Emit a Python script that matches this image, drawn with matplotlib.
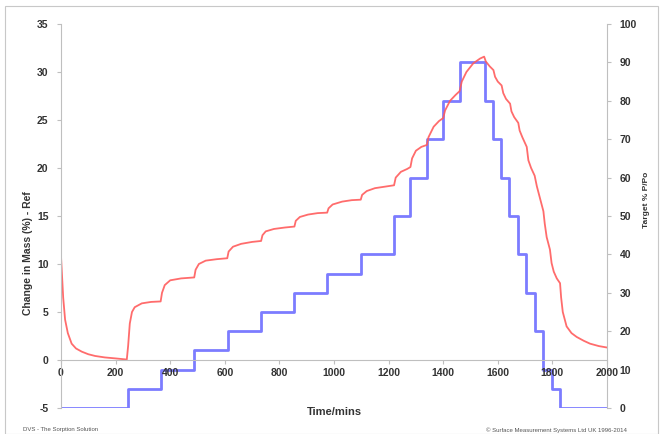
import matplotlib
matplotlib.use("Agg")
import matplotlib.pyplot as plt
from matplotlib.patches import Rectangle

# ---- data ----
rh_times = [0, 245, 365, 488, 610, 732, 855, 975, 1098, 1220, 1280, 1340, 1400, 1460,
            1552, 1584, 1612, 1642, 1674, 1704, 1735, 1766, 1797, 1828, 2000]
rh_values = [0, 5, 10, 15, 20, 25, 30, 35, 40, 50, 60, 70, 80, 90,
             80, 70, 60, 50, 40, 30, 20, 10, 5, 0, 0]

mass_times = [0, 8, 15, 25, 39, 55, 76, 100, 125, 160, 198, 241,
              246, 252, 260, 270, 296, 330, 365,
              370, 380, 400, 440, 488,
              493, 505, 530, 570, 609,
              614, 630, 660, 700, 733,
              738, 750, 780, 820, 855,
              860, 875, 905, 940, 975,
              980, 995, 1030, 1065, 1098,
              1103, 1120, 1150, 1185, 1220,
              1226, 1245, 1268, 1280,
              1286, 1300, 1320, 1340,
              1346, 1365, 1385, 1400,
              1407, 1425, 1445, 1460,
              1468, 1485, 1510, 1535, 1550,
              1556, 1570, 1584, 1590, 1600, 1614, 1620, 1630, 1645,
              1650, 1660, 1675, 1680, 1690, 1706, 1712, 1722, 1735,
              1743, 1755, 1767, 1772, 1779, 1791, 1797, 1805, 1816, 1828,
              1832, 1838, 1852, 1870, 1889, 1915, 1938, 1970, 2000]
mass_values = [10.8, 6.5, 4.2, 2.8, 1.7, 1.2, 0.87, 0.6, 0.42, 0.27, 0.17, 0.05,
               1.5, 3.8, 5.0, 5.5, 5.9, 6.05, 6.1,
               7.0, 7.8, 8.3, 8.5, 8.6,
               9.4, 10.0, 10.35, 10.5, 10.6,
               11.3, 11.8, 12.1, 12.3, 12.4,
               13.0, 13.4, 13.65, 13.8, 13.9,
               14.5, 14.9, 15.15, 15.3, 15.35,
               15.8, 16.2, 16.5, 16.65, 16.7,
               17.2, 17.6, 17.9, 18.05, 18.2,
               19.0, 19.6, 19.9, 20.1,
               21.0, 21.8, 22.2, 22.4,
               23.2, 24.3, 24.9, 25.2,
               26.0, 27.0, 27.6, 28.0,
               29.0, 30.0, 30.9, 31.4, 31.6,
               31.1, 30.6, 30.2, 29.5, 29.0, 28.6, 27.8, 27.2, 26.7,
               25.9, 25.3, 24.7, 23.9, 23.2, 22.2, 20.8, 20.0, 19.2,
               18.1, 16.8, 15.5, 14.2, 12.8, 11.5, 10.1, 9.2, 8.5, 8.0,
               6.5, 5.0, 3.5, 2.8, 2.4, 2.0, 1.7, 1.45, 1.3]

x_ticks = list(range(0, 2001, 200))
left_ticks = list(range(-5, 36, 5))
right_ticks = list(range(0, 101, 10))

# ---- figure ----
plt.rcParams['font.family'] = ['Liberation Sans', 'DejaVu Sans']
plt.rcParams['axes.unicode_minus'] = False
W, H = 660, 434
fig = plt.figure(figsize=(W / 100, H / 100), dpi=100)
fig.patch.set_facecolor('white')
ax = fig.add_axes([61 / W, 1 - 408 / H, (607 - 61) / W, (408 - 24) / H])
ax2 = ax.twinx()

grey = '#bfbfbf'
txt = '#333333'

ax2.step(rh_times, rh_values, where='post', color='#6e6eff', lw=2.0, alpha=0.9)
ax.plot(mass_times, mass_values, color='#ff5c5c', lw=1.3, alpha=0.9)

ax.set_zorder(ax2.get_zorder() + 1)
ax.patch.set_visible(False)

ax.set_xlim(0, 2000)
ax.set_ylim(-5, 35)
ax2.set_ylim(0, 100)
ax.set_xticks(x_ticks)
ax.set_yticks(left_ticks)
ax2.set_yticks(right_ticks)

for s in ['top', 'right']:
    ax.spines[s].set_visible(False)
for s in ['top', 'left', 'bottom']:
    ax2.spines[s].set_visible(False)
ax.spines['bottom'].set_position(('data', 0))
ax.spines['bottom'].set_color(grey)
ax.spines['left'].set_color(grey)
ax2.spines['right'].set_color(grey)

ax.tick_params(axis='x', length=3, color=grey, pad=3, labelsize=7.5, labelcolor=txt)
ax.tick_params(axis='y', length=3, color=grey, pad=6, labelsize=7.5, labelcolor=txt)
ax2.tick_params(axis='y', length=3, color=grey, pad=6, labelsize=7.5, labelcolor=txt)
for lab in ax.get_xticklabels() + ax.get_yticklabels() + ax2.get_yticklabels():
    lab.set_fontweight('bold')

fig.text(334 / W, 1 - 412 / H, 'Time/mins', ha='center', va='center',
         fontsize=8, fontweight='bold', color=txt)
fig.text(28 / W, 1 - 253 / H, 'Change in Mass (%) - Ref', ha='center', va='center',
         rotation=90, fontsize=7.5, fontweight='bold', color=txt)
fig.text(646 / W, 1 - 200 / H, 'Target % P/Po', ha='center', va='center',
         rotation=90, fontsize=6, fontweight='bold', color=txt)

fig.text(23 / W, 1 - 430 / H, 'DVS - The Sorption Solution', ha='left', va='center',
         fontsize=4.3, color='#555555')
fig.text(627 / W, 1 - 430 / H, '\u00a9 Surface Measurement Systems Ltd UK 1996-2014',
         ha='right', va='center', fontsize=4.3, color='#555555')

fig.patches.append(Rectangle((5 / W, 0.5 / H), 653 / W, (H - 6.5) / H,
                             transform=fig.transFigure, fill=False,
                             edgecolor='#c8c8c8', lw=0.8))

fig.savefig('out.png', dpi=100)
